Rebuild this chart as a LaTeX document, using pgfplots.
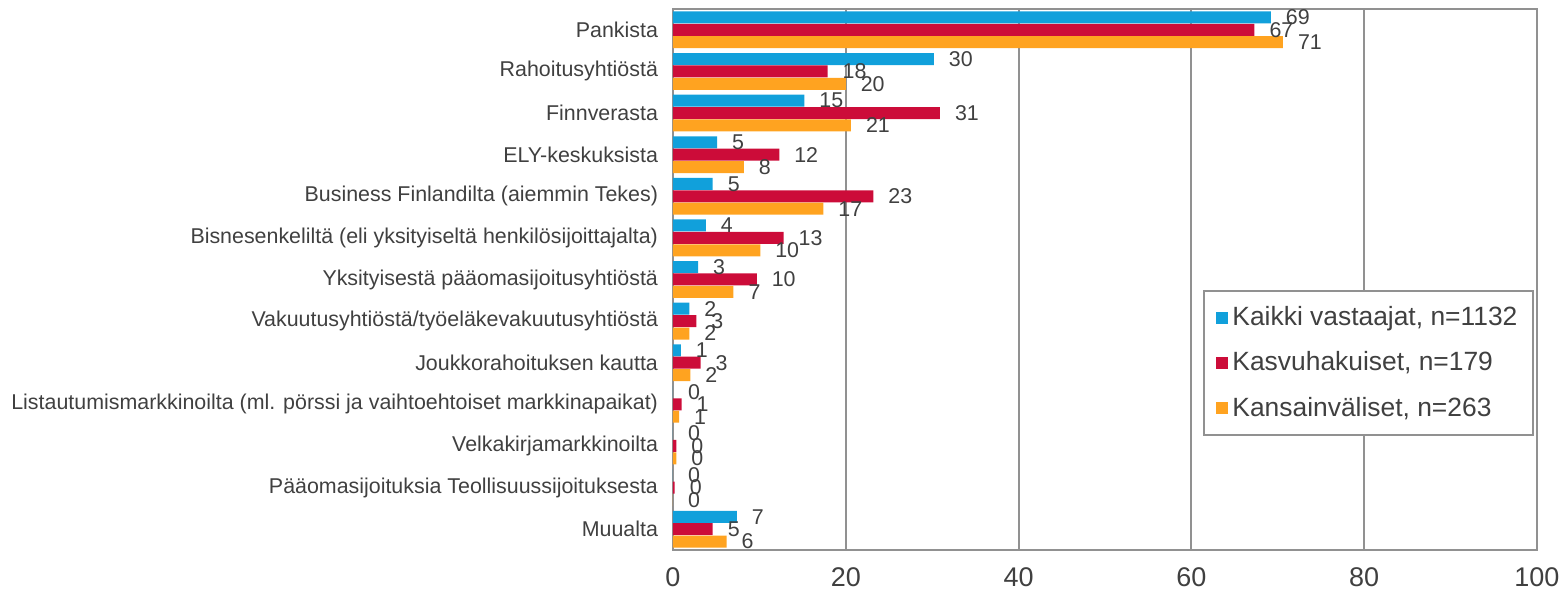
\documentclass[border=0pt]{standalone}
\usepackage{pgfplots}
\pgfplotsset{compat=1.18}
\usepackage{fontspec}
\setmainfont{Liberation Sans}
\definecolor{cblue}{RGB}{17,160,219}
\definecolor{cred}{RGB}{204,12,57}
\definecolor{corange}{RGB}{255,163,32}
\definecolor{ctext}{RGB}{64,64,64}
\definecolor{cgrid}{RGB}{145,145,145}
\begin{document}
\begin{tikzpicture}
\path[use as bounding box] (-336.5bp,-22bp) rectangle (445.5bp,275bp);
\begin{axis}[
  scale only axis,
  width=432bp, height=270.5bp,
  xbar, bar width=6bp,
  xmin=0, xmax=100, ymin=-0.5, ymax=12.5,
  xtick={0,20,40,60,80,100},
  ytick={0,...,12},
  yticklabels={Muualta,
    Pääomasijoituksia Teollisuussijoituksesta,
    Velkakirjamarkkinoilta,
    Listautumismarkkinoilta (ml. pörssi ja vaihtoehtoiset markkinapaikat),
    Joukkorahoituksen kautta,
    Vakuutusyhtiöstä/työeläkevakuutusyhtiöstä,
    Yksityisestä pääomasijoitusyhtiöstä,
    Bisnesenkeliltä (eli yksityiseltä henkilösijoittajalta),
    Business Finlandilta (aiemmin Tekes),
    ELY-keskuksista,
    Finnverasta,
    Rahoitusyhtiöstä,
    Pankista},
  major tick length=0pt,
  xmajorgrids, grid style={cgrid, line width=1bp},
  axis line style={cgrid, line width=1bp},
  /pgf/number format/assume math mode=true,
  xticklabel style={font=\fontsize{13.5bp}{16bp}\selectfont, text=ctext, yshift=-5.5bp},
  yticklabel style={font=\fontsize{10.7bp}{12bp}\selectfont, text=ctext, anchor=east, xshift=-4bp},
  nodes near coords,
  point meta=x,
  nodes near coords style={font=\fontsize{10.7bp}{12bp}\selectfont, text=ctext, anchor=west, xshift=4bp,
    /pgf/number format/.cd, fixed, precision=0, assume math mode=true},
  legend style={at={(rel axis cs:0.997,0.481)}, anchor=north east, draw=cgrid, line width=1bp,
    font=\fontsize{13.2bp}{15bp}\selectfont, text=ctext, fill=white,
    row sep=7.5bp, inner xsep=6bp, inner ysep=6bp, cells={anchor=west}},
  legend image code/.code={\path[#1,draw=none] (0bp,-3bp) rectangle (6bp,3bp);},
]
\addplot[fill=cblue, draw=none, bar shift=6.2bp] coordinates {
 (69.2,12) (30.2,11) (15.2,10) (5.1,9) (4.6,8) (3.8,7) (2.9,6) (1.9,5) (0.9,4) (0,3) (0,2) (0,1) (7.4,0)};
\addplot[fill=cred, draw=none, bar shift=0bp] coordinates {
 (67.3,12) (17.9,11) (30.9,10) (12.3,9) (23.2,8) (12.8,7) (9.7,6) (2.7,5) (3.2,4) (1.0,3) (0.4,2) (0.2,1) (4.6,0)};
\addplot[fill=corange, draw=none, bar shift=-6.2bp] coordinates {
 (70.6,12) (20.0,11) (20.6,10) (8.2,9) (17.4,8) (10.1,7) (7.0,6) (1.9,5) (2.0,4) (0.7,3) (0.4,2) (0,1) (6.2,0)};
\legend{Kaikki vastaajat{,} n=1132, Kasvuhakuiset{,} n=179, Kansainväliset{,} n=263}
\end{axis}
\end{tikzpicture}
\end{document}
